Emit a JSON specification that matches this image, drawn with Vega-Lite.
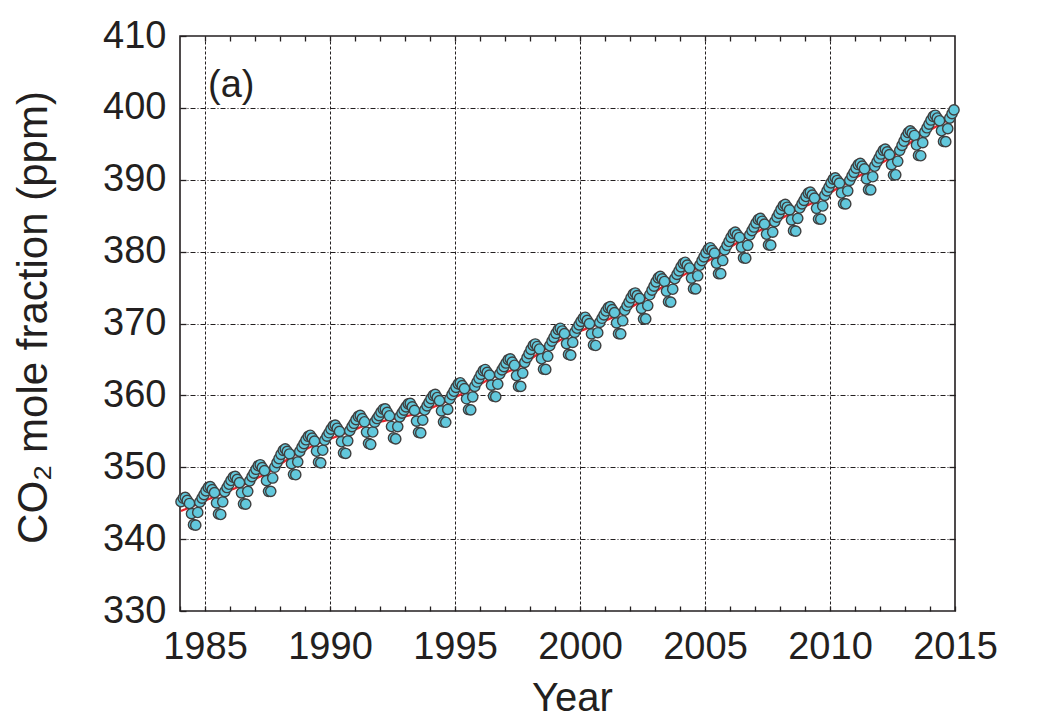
{
  "$schema": "https://vega.github.io/schema/vega-lite/v6.json",
  "width": 775,
  "height": 575,
  "autosize": "none",
  "padding": {"left": 180, "top": 36, "right": 88, "bottom": 114},
  "background": "white",
  "config": {
    "view": {"stroke": "#231f20", "strokeWidth": 1.6},
    "font": "Liberation Sans",
    "axis": {"labelFont": "Liberation Sans", "titleFont": "Liberation Sans", "labelColor": "#231f20", "titleColor": "#231f20", "titleFontWeight": "normal"}
  },
  "data": {"values": [
    {"t":1984.04,"v":345.21,"r":343.91},{"t":1984.13,"v":345.69,"r":344.04},{"t":1984.21,"v":345.81,"r":344.16},{"t":1984.29,"v":345.39,"r":344.29},{"t":1984.38,"v":344.96,"r":344.41},{"t":1984.46,"v":343.54,"r":344.54},{"t":1984.54,"v":342.01,"r":344.66},{"t":1984.63,"v":341.94,"r":344.79},{"t":1984.71,"v":343.71,"r":344.91},{"t":1984.79,"v":345.14,"r":345.04},{"t":1984.88,"v":345.71,"r":345.16},{"t":1984.96,"v":346.19,"r":345.29},
    {"t":1985.04,"v":346.71,"r":345.41},{"t":1985.13,"v":347.19,"r":345.54},{"t":1985.21,"v":347.31,"r":345.66},{"t":1985.29,"v":346.89,"r":345.79},{"t":1985.38,"v":346.46,"r":345.91},{"t":1985.46,"v":345.04,"r":346.04},{"t":1985.54,"v":343.51,"r":346.16},{"t":1985.63,"v":343.43,"r":346.28},{"t":1985.71,"v":345.19,"r":346.39},{"t":1985.79,"v":346.61,"r":346.51},{"t":1985.88,"v":347.18,"r":346.63},{"t":1985.96,"v":347.64,"r":346.74},
    {"t":1986.04,"v":348.16,"r":346.86},{"t":1986.13,"v":348.62,"r":346.97},{"t":1986.21,"v":348.74,"r":347.09},{"t":1986.29,"v":348.31,"r":347.21},{"t":1986.38,"v":347.87,"r":347.32},{"t":1986.46,"v":346.44,"r":347.44},{"t":1986.54,"v":344.92,"r":347.57},{"t":1986.63,"v":344.86,"r":347.71},{"t":1986.71,"v":346.65,"r":347.85},{"t":1986.79,"v":348.10,"r":348.00},{"t":1986.88,"v":348.69,"r":348.14},{"t":1986.96,"v":349.18,"r":348.28},
    {"t":1987.04,"v":349.72,"r":348.42},{"t":1987.13,"v":350.21,"r":348.56},{"t":1987.21,"v":350.35,"r":348.70},{"t":1987.29,"v":349.95,"r":348.85},{"t":1987.38,"v":349.54,"r":348.99},{"t":1987.46,"v":348.13,"r":349.13},{"t":1987.54,"v":346.65,"r":349.30},{"t":1987.63,"v":346.65,"r":349.50},{"t":1987.71,"v":348.50,"r":349.70},{"t":1987.79,"v":350.00,"r":349.90},{"t":1987.88,"v":350.65,"r":350.10},{"t":1987.96,"v":351.20,"r":350.30},
    {"t":1988.04,"v":351.80,"r":350.50},{"t":1988.13,"v":352.35,"r":350.70},{"t":1988.21,"v":352.55,"r":350.90},{"t":1988.29,"v":352.20,"r":351.10},{"t":1988.38,"v":351.85,"r":351.30},{"t":1988.46,"v":350.50,"r":351.50},{"t":1988.54,"v":349.02,"r":351.67},{"t":1988.63,"v":348.96,"r":351.81},{"t":1988.71,"v":350.75,"r":351.95},{"t":1988.79,"v":352.20,"r":352.10},{"t":1988.88,"v":352.79,"r":352.24},{"t":1988.96,"v":353.28,"r":352.38},
    {"t":1989.04,"v":353.82,"r":352.52},{"t":1989.13,"v":354.31,"r":352.66},{"t":1989.21,"v":354.45,"r":352.80},{"t":1989.29,"v":354.05,"r":352.95},{"t":1989.38,"v":353.64,"r":353.09},{"t":1989.46,"v":352.23,"r":353.23},{"t":1989.54,"v":350.70,"r":353.35},{"t":1989.63,"v":350.61,"r":353.46},{"t":1989.71,"v":352.37,"r":353.57},{"t":1989.79,"v":353.78,"r":353.68},{"t":1989.88,"v":354.34,"r":353.79},{"t":1989.96,"v":354.80,"r":353.90},
    {"t":1990.04,"v":355.30,"r":354.00},{"t":1990.13,"v":355.76,"r":354.11},{"t":1990.21,"v":355.87,"r":354.22},{"t":1990.29,"v":355.43,"r":354.33},{"t":1990.38,"v":354.99,"r":354.44},{"t":1990.46,"v":353.55,"r":354.55},{"t":1990.54,"v":352.01,"r":354.66},{"t":1990.63,"v":351.92,"r":354.77},{"t":1990.71,"v":353.68,"r":354.88},{"t":1990.79,"v":355.09,"r":354.99},{"t":1990.88,"v":355.66,"r":355.11},{"t":1990.96,"v":356.12,"r":355.22},
    {"t":1991.04,"v":356.63,"r":355.33},{"t":1991.13,"v":357.09,"r":355.44},{"t":1991.21,"v":357.21,"r":355.56},{"t":1991.29,"v":356.77,"r":355.67},{"t":1991.38,"v":356.33,"r":355.78},{"t":1991.46,"v":354.89,"r":355.89},{"t":1991.54,"v":353.33,"r":355.98},{"t":1991.63,"v":353.19,"r":356.04},{"t":1991.71,"v":354.91,"r":356.11},{"t":1991.79,"v":356.27,"r":356.17},{"t":1991.88,"v":356.78,"r":356.23},{"t":1991.96,"v":357.19,"r":356.29},
    {"t":1992.04,"v":357.66,"r":356.36},{"t":1992.13,"v":358.07,"r":356.42},{"t":1992.21,"v":358.13,"r":356.48},{"t":1992.29,"v":357.64,"r":356.54},{"t":1992.38,"v":357.16,"r":356.61},{"t":1992.46,"v":355.67,"r":356.67},{"t":1992.54,"v":354.08,"r":356.73},{"t":1992.63,"v":353.94,"r":356.79},{"t":1992.71,"v":355.66,"r":356.86},{"t":1992.79,"v":357.02,"r":356.92},{"t":1992.88,"v":357.53,"r":356.98},{"t":1992.96,"v":357.94,"r":357.04},
    {"t":1993.04,"v":358.41,"r":357.11},{"t":1993.13,"v":358.82,"r":357.17},{"t":1993.21,"v":358.88,"r":357.23},{"t":1993.29,"v":358.39,"r":357.29},{"t":1993.38,"v":357.91,"r":357.36},{"t":1993.46,"v":356.42,"r":357.42},{"t":1993.54,"v":354.86,"r":357.51},{"t":1993.63,"v":354.78,"r":357.63},{"t":1993.71,"v":356.55,"r":357.75},{"t":1993.79,"v":357.97,"r":357.87},{"t":1993.88,"v":358.54,"r":357.99},{"t":1993.96,"v":359.01,"r":358.11},
    {"t":1994.04,"v":359.54,"r":358.24},{"t":1994.13,"v":360.01,"r":358.36},{"t":1994.21,"v":360.13,"r":358.48},{"t":1994.29,"v":359.70,"r":358.60},{"t":1994.38,"v":359.27,"r":358.72},{"t":1994.46,"v":357.84,"r":358.84},{"t":1994.54,"v":356.32,"r":358.97},{"t":1994.63,"v":356.26,"r":359.11},{"t":1994.71,"v":358.05,"r":359.25},{"t":1994.79,"v":359.50,"r":359.40},{"t":1994.88,"v":360.09,"r":359.54},{"t":1994.96,"v":360.58,"r":359.68},
    {"t":1995.04,"v":361.12,"r":359.82},{"t":1995.13,"v":361.61,"r":359.96},{"t":1995.21,"v":361.75,"r":360.10},{"t":1995.29,"v":361.35,"r":360.25},{"t":1995.38,"v":360.94,"r":360.39},{"t":1995.46,"v":359.53,"r":360.53},{"t":1995.54,"v":358.03,"r":360.68},{"t":1995.63,"v":357.99,"r":360.84},{"t":1995.71,"v":359.80,"r":361.00},{"t":1995.79,"v":361.25,"r":361.15},{"t":1995.88,"v":361.86,"r":361.31},{"t":1995.96,"v":362.37,"r":361.47},
    {"t":1996.04,"v":362.93,"r":361.63},{"t":1996.13,"v":363.44,"r":361.79},{"t":1996.21,"v":363.60,"r":361.95},{"t":1996.29,"v":363.20,"r":362.10},{"t":1996.38,"v":362.81,"r":362.26},{"t":1996.46,"v":361.42,"r":362.42},{"t":1996.54,"v":359.90,"r":362.55},{"t":1996.63,"v":359.81,"r":362.66},{"t":1996.71,"v":361.57,"r":362.77},{"t":1996.79,"v":362.98,"r":362.88},{"t":1996.88,"v":363.54,"r":362.99},{"t":1996.96,"v":364.00,"r":363.10},
    {"t":1997.04,"v":364.50,"r":363.20},{"t":1997.13,"v":364.96,"r":363.31},{"t":1997.21,"v":365.07,"r":363.42},{"t":1997.29,"v":364.63,"r":363.53},{"t":1997.38,"v":364.19,"r":363.64},{"t":1997.46,"v":362.75,"r":363.75},{"t":1997.54,"v":361.25,"r":363.90},{"t":1997.63,"v":361.25,"r":364.10},{"t":1997.71,"v":363.10,"r":364.30},{"t":1997.79,"v":364.60,"r":364.50},{"t":1997.88,"v":365.25,"r":364.70},{"t":1997.96,"v":365.80,"r":364.90},
    {"t":1998.04,"v":366.40,"r":365.10},{"t":1998.13,"v":366.95,"r":365.30},{"t":1998.21,"v":367.15,"r":365.50},{"t":1998.29,"v":366.80,"r":365.70},{"t":1998.38,"v":366.45,"r":365.90},{"t":1998.46,"v":365.10,"r":366.10},{"t":1998.54,"v":363.64,"r":366.29},{"t":1998.63,"v":363.61,"r":366.46},{"t":1998.71,"v":365.44,"r":366.64},{"t":1998.79,"v":366.91,"r":366.81},{"t":1998.88,"v":367.54,"r":366.99},{"t":1998.96,"v":368.06,"r":367.16},
    {"t":1999.04,"v":368.64,"r":367.34},{"t":1999.13,"v":369.16,"r":367.51},{"t":1999.21,"v":369.34,"r":367.69},{"t":1999.29,"v":368.96,"r":367.86},{"t":1999.38,"v":368.59,"r":368.04},{"t":1999.46,"v":367.21,"r":368.21},{"t":1999.54,"v":365.70,"r":368.35},{"t":1999.63,"v":365.61,"r":368.46},{"t":1999.71,"v":367.37,"r":368.57},{"t":1999.79,"v":368.78,"r":368.68},{"t":1999.88,"v":369.34,"r":368.79},{"t":1999.96,"v":369.80,"r":368.90},
    {"t":2000.04,"v":370.30,"r":369.00},{"t":2000.13,"v":370.76,"r":369.11},{"t":2000.21,"v":370.87,"r":369.22},{"t":2000.29,"v":370.43,"r":369.33},{"t":2000.38,"v":369.99,"r":369.44},{"t":2000.46,"v":368.55,"r":369.55},{"t":2000.54,"v":367.01,"r":369.66},{"t":2000.63,"v":366.94,"r":369.79},{"t":2000.71,"v":368.72,"r":369.92},{"t":2000.79,"v":370.15,"r":370.05},{"t":2000.88,"v":370.73,"r":370.18},{"t":2000.96,"v":371.21,"r":370.31},
    {"t":2001.04,"v":371.74,"r":370.44},{"t":2001.13,"v":372.22,"r":370.57},{"t":2001.21,"v":372.35,"r":370.70},{"t":2001.29,"v":371.93,"r":370.83},{"t":2001.38,"v":371.51,"r":370.96},{"t":2001.46,"v":370.09,"r":371.09},{"t":2001.54,"v":368.59,"r":371.24},{"t":2001.63,"v":368.56,"r":371.41},{"t":2001.71,"v":370.38,"r":371.58},{"t":2001.79,"v":371.85,"r":371.75},{"t":2001.88,"v":372.47,"r":371.92},{"t":2001.96,"v":372.99,"r":372.09},
    {"t":2002.04,"v":373.56,"r":372.26},{"t":2002.13,"v":374.08,"r":372.43},{"t":2002.21,"v":374.25,"r":372.60},{"t":2002.29,"v":373.87,"r":372.77},{"t":2002.38,"v":373.49,"r":372.94},{"t":2002.46,"v":372.11,"r":373.11},{"t":2002.54,"v":370.65,"r":373.30},{"t":2002.63,"v":370.65,"r":373.50},{"t":2002.71,"v":372.50,"r":373.70},{"t":2002.79,"v":374.00,"r":373.90},{"t":2002.88,"v":374.65,"r":374.10},{"t":2002.96,"v":375.20,"r":374.30},
    {"t":2003.04,"v":375.80,"r":374.50},{"t":2003.13,"v":376.35,"r":374.70},{"t":2003.21,"v":376.55,"r":374.90},{"t":2003.29,"v":376.20,"r":375.10},{"t":2003.38,"v":375.85,"r":375.30},{"t":2003.46,"v":374.50,"r":375.50},{"t":2003.54,"v":373.03,"r":375.68},{"t":2003.63,"v":372.98,"r":375.83},{"t":2003.71,"v":374.77,"r":375.97},{"t":2003.79,"v":376.23,"r":376.13},{"t":2003.88,"v":376.83,"r":376.28},{"t":2003.96,"v":377.32,"r":376.42},
    {"t":2004.04,"v":377.88,"r":376.58},{"t":2004.13,"v":378.37,"r":376.72},{"t":2004.21,"v":378.52,"r":376.87},{"t":2004.29,"v":378.13,"r":377.03},{"t":2004.38,"v":377.72,"r":377.17},{"t":2004.46,"v":376.32,"r":377.32},{"t":2004.54,"v":374.84,"r":377.49},{"t":2004.63,"v":374.81,"r":377.66},{"t":2004.71,"v":376.64,"r":377.84},{"t":2004.79,"v":378.11,"r":378.01},{"t":2004.88,"v":378.74,"r":378.19},{"t":2004.96,"v":379.26,"r":378.36},
    {"t":2005.04,"v":379.84,"r":378.54},{"t":2005.13,"v":380.36,"r":378.71},{"t":2005.21,"v":380.54,"r":378.89},{"t":2005.29,"v":380.16,"r":379.06},{"t":2005.38,"v":379.79,"r":379.24},{"t":2005.46,"v":378.41,"r":379.41},{"t":2005.54,"v":376.94,"r":379.59},{"t":2005.63,"v":376.93,"r":379.78},{"t":2005.71,"v":378.76,"r":379.96},{"t":2005.79,"v":380.24,"r":380.14},{"t":2005.88,"v":380.88,"r":380.33},{"t":2005.96,"v":381.41,"r":380.51},
    {"t":2006.04,"v":381.99,"r":380.69},{"t":2006.13,"v":382.52,"r":380.87},{"t":2006.21,"v":382.71,"r":381.06},{"t":2006.29,"v":382.34,"r":381.24},{"t":2006.38,"v":381.97,"r":381.42},{"t":2006.46,"v":380.61,"r":381.61},{"t":2006.54,"v":379.13,"r":381.78},{"t":2006.63,"v":379.08,"r":381.93},{"t":2006.71,"v":380.87,"r":382.07},{"t":2006.79,"v":382.33,"r":382.23},{"t":2006.88,"v":382.93,"r":382.38},{"t":2006.96,"v":383.42,"r":382.52},
    {"t":2007.04,"v":383.98,"r":382.68},{"t":2007.13,"v":384.47,"r":382.82},{"t":2007.21,"v":384.62,"r":382.97},{"t":2007.29,"v":384.23,"r":383.13},{"t":2007.38,"v":383.82,"r":383.27},{"t":2007.46,"v":382.42,"r":383.42},{"t":2007.54,"v":380.93,"r":383.58},{"t":2007.63,"v":380.90,"r":383.75},{"t":2007.71,"v":382.72,"r":383.92},{"t":2007.79,"v":384.18,"r":384.08},{"t":2007.88,"v":384.80,"r":384.25},{"t":2007.96,"v":385.32,"r":384.42},
    {"t":2008.04,"v":385.88,"r":384.58},{"t":2008.13,"v":386.40,"r":384.75},{"t":2008.21,"v":386.57,"r":384.92},{"t":2008.29,"v":386.18,"r":385.08},{"t":2008.38,"v":385.80,"r":385.25},{"t":2008.46,"v":384.42,"r":385.42},{"t":2008.54,"v":382.92,"r":385.57},{"t":2008.63,"v":382.85,"r":385.70},{"t":2008.71,"v":384.63,"r":385.83},{"t":2008.79,"v":386.07,"r":385.97},{"t":2008.88,"v":386.65,"r":386.10},{"t":2008.96,"v":387.13,"r":386.23},
    {"t":2009.04,"v":387.67,"r":386.37},{"t":2009.13,"v":388.15,"r":386.50},{"t":2009.21,"v":388.28,"r":386.63},{"t":2009.29,"v":387.87,"r":386.77},{"t":2009.38,"v":387.45,"r":386.90},{"t":2009.46,"v":386.03,"r":387.03},{"t":2009.54,"v":384.54,"r":387.19},{"t":2009.63,"v":384.52,"r":387.37},{"t":2009.71,"v":386.35,"r":387.55},{"t":2009.79,"v":387.83,"r":387.73},{"t":2009.88,"v":388.46,"r":387.91},{"t":2009.96,"v":388.98,"r":388.08},
    {"t":2010.04,"v":389.57,"r":388.27},{"t":2010.13,"v":390.09,"r":388.44},{"t":2010.21,"v":390.27,"r":388.62},{"t":2010.29,"v":389.90,"r":388.80},{"t":2010.38,"v":389.53,"r":388.98},{"t":2010.46,"v":388.16,"r":389.16},{"t":2010.54,"v":386.68,"r":389.33},{"t":2010.63,"v":386.64,"r":389.49},{"t":2010.71,"v":388.46,"r":389.66},{"t":2010.79,"v":389.92,"r":389.82},{"t":2010.88,"v":390.53,"r":389.98},{"t":2010.96,"v":391.04,"r":390.14},
    {"t":2011.04,"v":391.61,"r":390.31},{"t":2011.13,"v":392.12,"r":390.47},{"t":2011.21,"v":392.28,"r":390.63},{"t":2011.29,"v":391.89,"r":390.79},{"t":2011.38,"v":391.51,"r":390.96},{"t":2011.46,"v":390.12,"r":391.12},{"t":2011.54,"v":388.63,"r":391.28},{"t":2011.63,"v":388.60,"r":391.45},{"t":2011.71,"v":390.42,"r":391.62},{"t":2011.79,"v":391.88,"r":391.78},{"t":2011.88,"v":392.50,"r":391.95},{"t":2011.96,"v":393.02,"r":392.12},
    {"t":2012.04,"v":393.58,"r":392.28},{"t":2012.13,"v":394.10,"r":392.45},{"t":2012.21,"v":394.27,"r":392.62},{"t":2012.29,"v":393.88,"r":392.78},{"t":2012.38,"v":393.50,"r":392.95},{"t":2012.46,"v":392.12,"r":393.12},{"t":2012.54,"v":390.66,"r":393.31},{"t":2012.63,"v":390.69,"r":393.54},{"t":2012.71,"v":392.57,"r":393.77},{"t":2012.79,"v":394.10,"r":394.00},{"t":2012.88,"v":394.78,"r":394.23},{"t":2012.96,"v":395.36,"r":394.46},
    {"t":2013.04,"v":395.99,"r":394.69},{"t":2013.13,"v":396.57,"r":394.92},{"t":2013.21,"v":396.80,"r":395.15},{"t":2013.29,"v":396.48,"r":395.38},{"t":2013.38,"v":396.16,"r":395.61},{"t":2013.46,"v":394.84,"r":395.84},{"t":2013.54,"v":393.38,"r":396.03},{"t":2013.63,"v":393.34,"r":396.19},{"t":2013.71,"v":395.16,"r":396.36},{"t":2013.79,"v":396.62,"r":396.52},{"t":2013.88,"v":397.23,"r":396.68},{"t":2013.96,"v":397.74,"r":396.84},
    {"t":2014.04,"v":398.31,"r":397.01},{"t":2014.13,"v":398.82,"r":397.17},{"t":2014.21,"v":398.98,"r":397.33},{"t":2014.29,"v":398.59,"r":397.49},{"t":2014.38,"v":398.21,"r":397.66},{"t":2014.46,"v":396.82,"r":397.82},{"t":2014.54,"v":395.33,"r":397.98},{"t":2014.63,"v":395.30,"r":398.15},{"t":2014.71,"v":397.12,"r":398.32},{"t":2014.79,"v":398.58,"r":398.48},{"t":2014.88,"v":399.20,"r":398.65},{"t":2014.96,"v":399.72,"r":398.82}
  ]},
  "layer": [
    {
      "mark": {"type": "line", "color": "#e8232b", "strokeWidth": 2.2},
      "encoding": {
        "x": {"field": "t", "type": "quantitative",
              "scale": {"domain": [1984, 2015], "nice": false, "zero": false},
              "axis": {"orient": "top", "values": [1985,1986,1987,1988,1989,1990,1991,1992,1993,1994,1995,1996,1997,1998,1999,2000,2001,2002,2003,2004,2005,2006,2007,2008,2009,2010,2011,2012,2013,2014],
                       "labels": false, "ticks": true, "tickSize": -5, "tickColor": "#231f20", "tickWidth": 1.3, "domain": false, "grid": false, "title": null}},
        "y": {"field": "r", "type": "quantitative",
              "scale": {"domain": [330, 410], "nice": false, "zero": false},
              "axis": {"orient": "right", "values": [340,350,360,370,380,390,400],
                       "labels": false, "ticks": true, "tickSize": -6, "tickColor": "#231f20", "tickWidth": 1.3, "domain": false, "grid": false, "title": null}}
      }
    },
    {
      "mark": {"type": "point", "shape": "circle", "filled": true, "size": 105, "fill": "#62c8dc", "stroke": "#3f3f3f", "strokeWidth": 1.4, "opacity": 1},
      "encoding": {
        "x": {"field": "t", "type": "quantitative",
              "scale": {"domain": [1984, 2015], "nice": false, "zero": false},
              "axis": {"orient": "bottom", "values": [1984,1985,1986,1987,1988,1989,1990,1991,1992,1993,1994,1995,1996,1997,1998,1999,2000,2001,2002,2003,2004,2005,2006,2007,2008,2009,2010,2011,2012,2013,2014,2015],
                       "format": "d", "labelExpr": "datum.value % 5 === 0 ? datum.label : ''",
                       "labelFontSize": 38, "labelBaseline": "alphabetic", "labelPadding": 52, "labelFlush": false, "labelOverlap": false,
                       "ticks": true, "tickSize": -5, "tickColor": "#231f20", "tickWidth": 1.3, "domain": false,
                       "grid": true, "gridColor": "#231f20", "gridWidth": 1, "gridDash": [3, 2],
                       "gridOpacity": {"condition": {"test": "datum.value % 5 === 0 && datum.value > 1984 && datum.value < 2015", "value": 1}, "value": 0},
                       "title": "Year", "titleFontSize": 40, "titleBaseline": "alphabetic", "titleX": 392, "titleY": 99, "titleAlign": "center"}},
        "y": {"field": "v", "type": "quantitative",
              "scale": {"domain": [330, 410], "nice": false, "zero": false},
              "axis": {"orient": "left", "values": [330,340,350,360,370,380,390,400,410],
                       "labelFontSize": 38, "labelPadding": 20, "labelFlush": false, "labelOverlap": false,
                       "ticks": true, "tickSize": -6, "tickColor": "#231f20", "tickWidth": 1.3, "domain": false,
                       "grid": true, "gridColor": "#231f20", "gridWidth": 1, "gridDash": [5, 2, 1, 2],
                       "gridOpacity": {"condition": {"test": "datum.value > 330 && datum.value < 410", "value": 1}, "value": 0},
                       "title": "CO₂ mole fraction (ppm)", "titleFontSize": 42, "titleAngle": 270, "titleBaseline": "alphabetic", "titleAlign": "center", "titleX": -134, "titleY": 281}}
      }
    },
    {
      "data": {"values": [{"label": "(a)"}]},
      "mark": {"type": "text", "font": "Liberation Sans", "fontSize": 38, "align": "left", "baseline": "alphabetic", "color": "#231f20"},
      "encoding": {
        "text": {"field": "label", "type": "nominal"},
        "x": {"datum": 1985.12, "type": "quantitative", "axis": null},
        "y": {"datum": 401.57, "type": "quantitative", "axis": null}
      }
    }
  ],
  "resolve": {"axis": {"x": "independent", "y": "independent"}}
}
